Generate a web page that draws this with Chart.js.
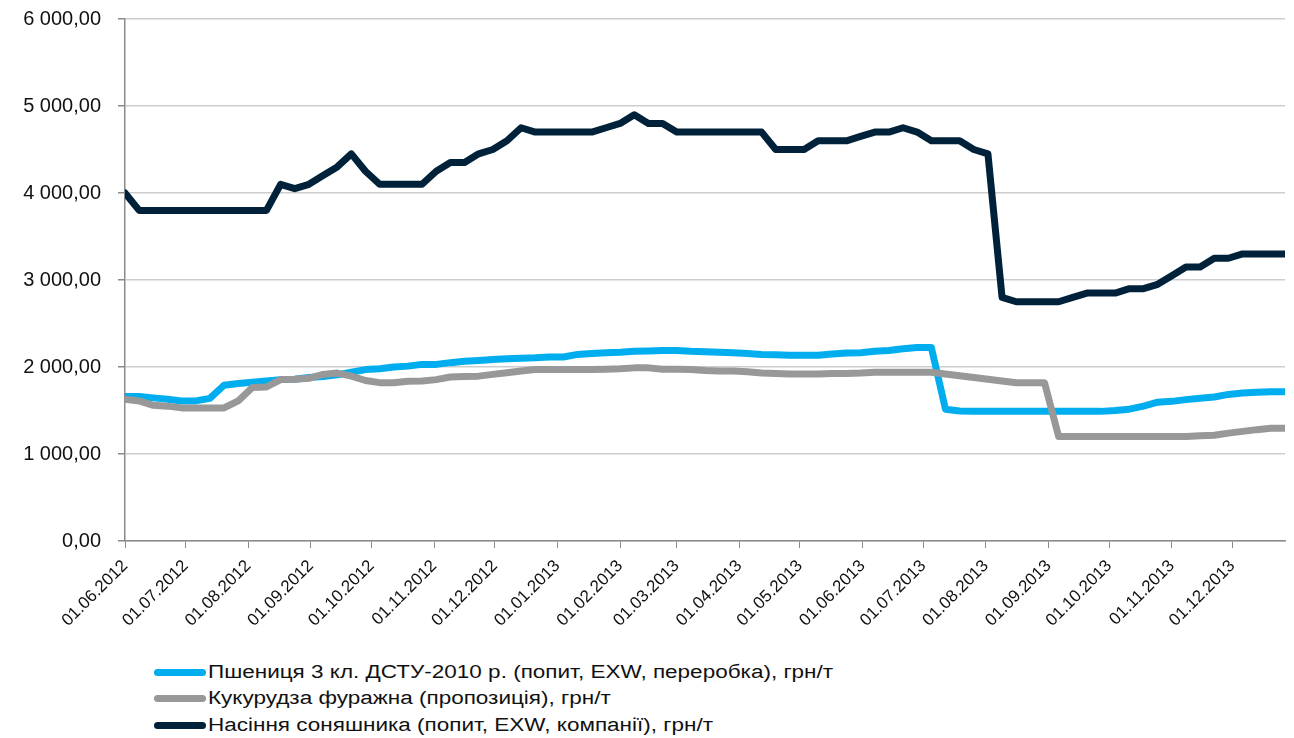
<!DOCTYPE html>
<html lang="uk">
<head>
<meta charset="utf-8">
<title>Ціни на зернові та олійні</title>
<script src="https://cdn.jsdelivr.net/npm/chart.js@4.4.1/dist/chart.umd.min.js"></script>
<style>
  html, body { margin: 0; padding: 0; background: #fff; }
  body { width: 1294px; height: 738px; position: relative; overflow: hidden;
         font-family: "Liberation Sans", Arial, sans-serif; }
  .chart-wrap { position: absolute; left: 0; top: -10px; width: 1294px; height: 660px; }
  .legend { position: absolute; left: 154px; top: 659px; }
  .legend-item { display: flex; align-items: center; height: 26.5px;
                 font-size: 18px; color: #111; white-space: nowrap; }
  .legend-line { width: 52px; height: 7px; border-radius: 4px; margin-right: 2px; flex: none; }
  .legend-text { display: inline-block; transform: scaleX(1.25); transform-origin: left center; }
</style>
</head>
<body>
<div class="chart-wrap"><canvas id="priceChart"></canvas></div>
<div class="legend" id="priceLegend"></div>

<script>
// ────────────────────────────────────────────────
// Data (weekly, starting 01.06.2012), грн/т
// ────────────────────────────────────────────────
const FIRST_DATE = [2012, 6, 1];   // 01.06.2012
const STEP_DAYS = 7;

const seriesNames = [
  'Пшениця 3 кл. ДСТУ-2010 р. (попит, EXW, переробка), грн/т',
  'Кукурудза фуражна (пропозиція), грн/т',
  'Насіння соняшника (попит, EXW, компанії), грн/т'
];
const seriesColors = ['#00aeef', '#989898', '#00213a'];

const wheat = [
  1660, 1660, 1645, 1630, 1610, 1610, 1640, 1790, 1810, 1825,
  1840, 1855, 1860, 1880, 1890, 1910, 1940, 1970, 1980, 2000,
  2010, 2030, 2030, 2050, 2065, 2075, 2085, 2095, 2100, 2105,
  2115, 2115, 2145, 2155, 2165, 2170, 2180, 2185, 2190, 2190,
  2180, 2175, 2170, 2165, 2155, 2145, 2140, 2135, 2135, 2135,
  2150, 2160, 2165, 2180, 2190, 2210, 2225, 2225, 1515, 1495,
  1490, 1490, 1490, 1490, 1490, 1490, 1490, 1490, 1490, 1490,
  1500, 1515, 1550, 1595, 1605, 1625, 1640, 1655, 1685, 1700,
  1710, 1715, 1715
];

const corn = [
  1630, 1610, 1560, 1550, 1530, 1530, 1530, 1530, 1610, 1765,
  1770, 1855, 1860, 1870, 1915, 1930, 1895, 1845, 1820, 1820,
  1835, 1840, 1855, 1885, 1890, 1895, 1915, 1935, 1955, 1970,
  1970, 1970, 1970, 1970, 1975, 1980, 1990, 1990, 1975, 1975,
  1970, 1960, 1955, 1955, 1945, 1930, 1925, 1920, 1920, 1920,
  1925, 1925, 1930, 1940, 1940, 1940, 1940, 1940, 1920, 1900,
  1880, 1860, 1840, 1820, 1820, 1820, 1200, 1200, 1200, 1200,
  1200, 1200, 1200, 1200, 1200, 1200, 1210, 1215, 1240, 1260,
  1280, 1295, 1295
];

const sunflower = [
  4000, 3800, 3800, 3800, 3800, 3800, 3800, 3800, 3800, 3800,
  3800, 4100, 4050, 4100, 4200, 4300, 4450, 4250, 4100, 4100,
  4100, 4100, 4250, 4350, 4350, 4450, 4500, 4600, 4750, 4700,
  4700, 4700, 4700, 4700, 4750, 4800, 4900, 4800, 4800, 4700,
  4700, 4700, 4700, 4700, 4700, 4700, 4500, 4500, 4500, 4600,
  4600, 4600, 4650, 4700, 4700, 4750, 4700, 4600, 4600, 4600,
  4500, 4450, 2800, 2750, 2750, 2750, 2750, 2800, 2850, 2850,
  2850, 2900, 2900, 2950, 3050, 3150, 3150, 3250, 3250, 3300,
  3300, 3300, 3300
];

// Month-start ticks on the date axis
const tickMonths = [
  [2012, 6], [2012, 7], [2012, 8], [2012, 9], [2012, 10], [2012, 11], [2012, 12],
  [2013, 1], [2013, 2], [2013, 3], [2013, 4], [2013, 5], [2013, 6], [2013, 7],
  [2013, 8], [2013, 9], [2013, 10], [2013, 11], [2013, 12]
];

// ────────────────────────────────────────────────
// Helpers
// ────────────────────────────────────────────────
const DAY_MS = 86400000;
const startUTC = Date.UTC(FIRST_DATE[0], FIRST_DATE[1] - 1, FIRST_DATE[2]);

function dayOffset(y, m, d) {
  return Math.round((Date.UTC(y, m - 1, d) - startUTC) / DAY_MS);
}

function pad2(n) { return String(n).padStart(2, '0'); }

function offsetToLabel(off) {
  const dt = new Date(startUTC + off * DAY_MS);
  return pad2(dt.getUTCDate()) + '.' + pad2(dt.getUTCMonth() + 1) + '.' + dt.getUTCFullYear();
}

function formatUah(v) {
  const parts = v.toFixed(2).split('.');
  const intPart = parts[0].replace(/\B(?=(\d{3})+(?!\d))/g, ' ');
  return intPart + ',' + parts[1];
}

const tickOffsets = tickMonths.map(([y, m]) => dayOffset(y, m, 1));
const lastOffset = (sunflower.length - 1) * STEP_DAYS;

function toPoints(values) {
  return values.map((v, i) => ({ x: i * STEP_DAYS, y: v }));
}

// ────────────────────────────────────────────────
// Chart
// ────────────────────────────────────────────────
const allSeries = [wheat, corn, sunflower];
const drawOrder = [3, 2, 1];   // sunflower on top, wheat at the bottom

const datasets = allSeries.map((values, i) => ({
  label: seriesNames[i],
  data: toPoints(values),
  borderColor: seriesColors[i],
  backgroundColor: seriesColors[i],
  borderWidth: 7,
  pointRadius: 0,
  tension: 0,
  borderJoinStyle: 'round',
  borderCapStyle: 'round',
  fill: false,
  order: drawOrder[i],
}));

const AXIS_COLOR = '#8a8a8a';
const GRID_COLOR = '#cdcdcd';
const TEXT_COLOR = '#111';
const FONT_FAMILY = '"Liberation Sans", Arial, sans-serif';

const ctx = document.getElementById('priceChart').getContext('2d');

new Chart(ctx, {
  type: 'line',
  data: { datasets },
  options: {
    responsive: true,
    maintainAspectRatio: false,
    animation: false,
    layout: { padding: { top: 7, right: 9, left: 0, bottom: 0 } },
    plugins: {
      legend: { display: false },
      tooltip: { enabled: false },
    },
    scales: {
      x: {
        type: 'linear',
        min: 0,
        max: lastOffset,
        afterBuildTicks: scale => {
          scale.ticks = tickOffsets.map(v => ({ value: v }));
        },
        afterFit: scale => { scale.height = 109; },
        grid: {
          drawOnChartArea: false,
          drawTicks: true,
          tickLength: 7,
          tickColor: AXIS_COLOR,
        },
        border: { display: true, color: AXIS_COLOR, width: 1.5 },
        ticks: {
          autoSkip: false,
          minRotation: 45,
          maxRotation: 45,
          padding: 8,
          color: TEXT_COLOR,
          font: { family: FONT_FAMILY, size: 17 },
          callback: v => offsetToLabel(v),
        },
      },
      y: {
        min: 0,
        max: 6000,
        afterFit: scale => { scale.width = 125; },
        grid: {
          color: GRID_COLOR,
          lineWidth: 1.5,
          drawTicks: true,
          tickLength: 7,
          tickColor: AXIS_COLOR,
        },
        border: { display: true, color: AXIS_COLOR, width: 1.5 },
        ticks: {
          stepSize: 1000,
          padding: 17,
          color: TEXT_COLOR,
          font: { family: FONT_FAMILY, size: 20 },
          callback: v => formatUah(v),
        },
      },
    },
  },
});

// ────────────────────────────────────────────────
// Legend (one entry per line, left aligned)
// ────────────────────────────────────────────────
const legendEl = document.getElementById('priceLegend');
seriesNames.forEach((name, i) => {
  const item = document.createElement('div');
  item.className = 'legend-item';
  item.innerHTML = `<span class="legend-line" style="background:${seriesColors[i]}"></span>` +
                   `<span class="legend-text">${name}</span>`;
  legendEl.appendChild(item);
});
</script>
</body>
</html>
